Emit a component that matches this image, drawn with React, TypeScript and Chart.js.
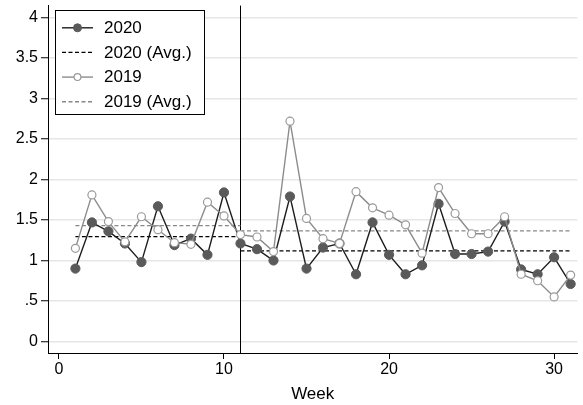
import { useEffect, useRef } from "react";
import Chart from "chart.js/auto";

const weeks = [1, 2, 3, 4, 5, 6, 7, 8, 9, 10, 11, 12, 13, 14, 15, 16, 17, 18, 19, 20, 21, 22, 23, 24, 25, 26, 27, 28, 29, 30, 31];
const values2020 = [0.9, 1.47, 1.36, 1.21, 0.98, 1.67, 1.19, 1.27, 1.07, 1.84, 1.21, 1.14, 1.0, 1.79, 0.9, 1.16, 1.21, 0.83, 1.47, 1.07, 0.83, 0.94, 1.7, 1.08, 1.08, 1.11, 1.48, 0.89, 0.83, 1.04, 0.71];
const values2019 = [1.15, 1.81, 1.48, 1.23, 1.54, 1.38, 1.22, 1.2, 1.72, 1.55, 1.32, 1.29, 1.11, 2.72, 1.52, 1.27, 1.21, 1.85, 1.65, 1.56, 1.44, 1.09, 1.9, 1.58, 1.33, 1.33, 1.54, 0.83, 0.75, 0.55, 0.82];
// averages before / after the break week
const avg2020 = [1.295, 1.12];
const avg2019 = [1.43, 1.365];
const breakWeek = 11;
const xTicks = [0, 10, 20, 30];
const yTicks = [0, 0.5, 1, 1.5, 2, 2.5, 3, 3.5, 4];
const labels = ["2020", "2020 (Avg.)", "2019", "2019 (Avg.)"];

const FONT = '"Liberation Sans", Arial, sans-serif';

function avgPoints(avg: number[]) {
  const first = weeks[0];
  const last = weeks[weeks.length - 1];
  return [
    { x: first, y: avg[0] },
    { x: breakWeek, y: avg[0] },
    { x: breakWeek, y: null },
    { x: breakWeek, y: avg[1] },
    { x: last, y: avg[1] },
  ];
}

const breakLine = {
  id: "breakLine",
  beforeDatasetsDraw(chart: any) {
    const { ctx, chartArea, scales } = chart;
    const x = Math.round(scales.x.getPixelForValue(breakWeek)) + 0.5;
    ctx.save();
    ctx.strokeStyle = "#000";
    ctx.lineWidth = 1;
    ctx.beginPath();
    ctx.moveTo(x, chartArea.top);
    ctx.lineTo(x, chartArea.bottom);
    ctx.stroke();
    ctx.restore();
  },
};

// boxed legend inside the plot, top-left
const boxLegend = {
  id: "boxLegend",
  afterDraw(chart: any) {
    const { ctx } = chart;
    const ds = chart.data.datasets;
    ctx.save();
    ctx.fillStyle = "#fff";
    ctx.fillRect(55, 10, 149, 104);
    ctx.strokeStyle = "#000";
    ctx.lineWidth = 1;
    ctx.strokeRect(55.5, 10.5, 149, 104);
    ds.forEach((d: any, i: number) => {
      const cy = 27.8 + i * 24.65;
      ctx.save();
      ctx.strokeStyle = d.borderColor;
      ctx.lineWidth = d.borderWidth;
      ctx.setLineDash(d.borderDash || []);
      ctx.beginPath();
      ctx.moveTo(62, cy);
      ctx.lineTo(93, cy);
      ctx.stroke();
      ctx.restore();
      if (d.pointRadius > 0) {
        ctx.beginPath();
        ctx.arc(77.5, cy, d.pointRadius - 0.6, 0, Math.PI * 2);
        ctx.fillStyle = d.pointBackgroundColor;
        ctx.fill();
        ctx.strokeStyle = d.pointBorderColor;
        ctx.lineWidth = d.pointBorderWidth;
        ctx.stroke();
      }
      ctx.fillStyle = "#000";
      ctx.font = `17px ${FONT}`;
      ctx.textBaseline = "middle";
      ctx.textAlign = "left";
      ctx.fillText(labels[i], 104, cy + 0.5);
    });
    ctx.restore();
  },
};

export default function App() {
  const chartRef = useRef<HTMLCanvasElement>(null);
  const chartInstance = useRef<Chart | null>(null);

  useEffect(() => {
    if (!chartRef.current) return;
    const ctx = chartRef.current.getContext("2d");
    if (!ctx) return;
    if (chartInstance.current) chartInstance.current.destroy();

    chartInstance.current = new Chart(ctx, {
      type: "line",
      data: {
        datasets: [
          {
            label: labels[0],
            data: weeks.map((w, i) => ({ x: w, y: values2020[i] })),
            borderColor: "#1e1e1e",
            borderWidth: 1.4,
            pointRadius: 4.6,
            pointBackgroundColor: "#5a5a5a",
            pointBorderColor: "#5a5a5a",
            pointBorderWidth: 1,
            order: 2,
          },
          {
            label: labels[1],
            data: avgPoints(avg2020),
            borderColor: "#000",
            borderWidth: 1.3,
            borderDash: [4, 2.5],
            pointRadius: 0,
            order: 4,
          },
          {
            label: labels[2],
            data: weeks.map((w, i) => ({ x: w, y: values2019[i] })),
            borderColor: "#8c8c8c",
            borderWidth: 1.4,
            pointRadius: 4,
            pointBackgroundColor: "#fff",
            pointBorderColor: "#999",
            pointBorderWidth: 1.2,
            order: 1,
          },
          {
            label: labels[3],
            data: avgPoints(avg2019),
            borderColor: "#888",
            borderWidth: 1.3,
            borderDash: [4, 2.5],
            pointRadius: 0,
            order: 3,
          },
        ] as any,
      },
      options: {
        animation: false,
        responsive: false,
        layout: { padding: { top: 3, left: 0, right: 0, bottom: 0 } },
        plugins: {
          legend: { display: false },
          tooltip: { enabled: false },
        },
        scales: {
          x: {
            type: "linear",
            min: -0.66,
            max: 31.41,
            afterBuildTicks: (s: any) => {
              s.ticks = xTicks.map((v) => ({ value: v }));
            },
            afterFit: (s: any) => {
              s.height = 52;
              s.paddingLeft = 0;
              s.paddingRight = 0;
            },
            grid: { drawOnChartArea: false, drawTicks: true, tickLength: 6, tickColor: "#000", tickWidth: 1 },
            border: { display: true, color: "#000", width: 1 },
            ticks: {
              color: "#000",
              font: { family: FONT, size: 16 },
              padding: 1,
              maxRotation: 0,
              autoSkip: false,
            },
            title: {
              display: true,
              text: "Week",
              color: "#000",
              font: { family: FONT, size: 17 },
              padding: 0,
            },
          },
          y: {
            type: "linear",
            min: -0.142,
            max: 4.147,
            afterBuildTicks: (s: any) => {
              s.ticks = yTicks.map((v) => ({ value: v }));
            },
            afterFit: (s: any) => {
              s.width = 48;
              s.paddingTop = 0;
              s.paddingBottom = 0;
            },
            grid: { color: "#e6e6e6", lineWidth: 1.5, drawTicks: true, tickLength: 7, tickColor: "#000", tickWidth: 1 },
            border: { display: true, color: "#000", width: 1 },
            ticks: {
              color: "#000",
              font: { family: FONT, size: 16 },
              padding: 3,
              callback: (v: any) => (v === 0.5 ? ".5" : String(v)),
            },
          },
        },
      },
      plugins: [breakLine, boxLegend],
    });

    return () => {
      if (chartInstance.current) {
        chartInstance.current.destroy();
        chartInstance.current = null;
      }
    };
  }, []);

  return (
    <div style={{ position: "absolute", left: 0, top: 0, width: 583, height: 405 }}>
      <canvas ref={chartRef} width={583} height={405} style={{ display: "block" }} />
    </div>
  );
}
